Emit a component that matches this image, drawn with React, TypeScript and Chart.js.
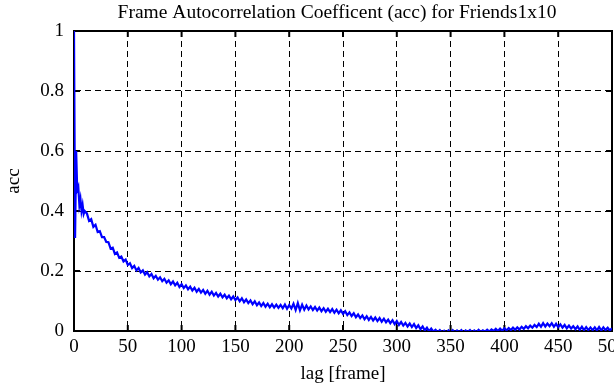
import React, { useEffect, useRef } from 'react';
import { Chart, registerables } from 'chart.js';

Chart.register(...registerables);

const chartTitle = 'Frame Autocorrelation Coefficent (acc) for Friends1x10';
const xAxisTitle = 'lag [frame]';
const yAxisTitle = 'acc';
const xTickValues = [0, 50, 100, 150, 200, 250, 300, 350, 400, 450, 500];
const yTickValues = [0, 0.2, 0.4, 0.6, 0.8, 1];
const yTickLabels = ['0', '0.2', '0.4', '0.6', '0.8', '1'];

const lagFrames = [
  0, 1, 2, 3, 4, 5, 6, 7, 8, 9, 10,
  12, 14, 16, 18, 20, 22, 24, 26, 28, 30,
  32, 34, 36, 38, 40, 42, 44, 46, 48, 50,
  52, 54, 56, 58, 60, 62, 64, 66, 68, 70,
  72, 74, 76, 78, 80, 82, 84, 86, 88, 90,
  92, 94, 96, 98, 100, 102, 104, 106, 108, 110,
  112, 114, 116, 118, 120, 122, 124, 126, 128, 130,
  132, 134, 136, 138, 140, 142, 144, 146, 148, 150,
  152, 154, 156, 158, 160, 162, 164, 166, 168, 170,
  172, 174, 176, 178, 180, 182, 184, 186, 188, 190,
  192, 194, 196, 198, 200, 202, 204, 206, 208, 210,
  212, 214, 216, 218, 220, 222, 224, 226, 228, 230,
  232, 234, 236, 238, 240, 242, 244, 246, 248, 250,
  252, 254, 256, 258, 260, 262, 264, 266, 268, 270,
  272, 274, 276, 278, 280, 282, 284, 286, 288, 290,
  292, 294, 296, 298, 300, 302, 304, 306, 308, 310,
  312, 314, 316, 318, 320, 322, 324, 326, 328, 330,
  332, 334, 336, 338, 340, 342, 344, 346, 348, 350,
  352, 354, 356, 358, 360, 362, 364, 366, 368, 370,
  372, 374, 376, 378, 380, 382, 384, 386, 388, 390,
  392, 394, 396, 398, 400, 402, 404, 406, 408, 410,
  412, 414, 416, 418, 420, 422, 424, 426, 428, 430,
  432, 434, 436, 438, 440, 442, 444, 446, 448, 450,
  452, 454, 456, 458, 460, 462, 464, 466, 468, 470,
  472, 474, 476, 478, 480, 482, 484, 486, 488, 490,
  492, 494, 496, 498, 500,
];

const accValues = [
  1.0, 0.31, 0.6, 0.47, 0.48, 0.42, 0.44, 0.4, 0.42, 0.39, 0.4,
  0.392, 0.367, 0.373, 0.347, 0.354, 0.33, 0.333, 0.313, 0.313, 0.297,
  0.296, 0.275, 0.278, 0.257, 0.262, 0.244, 0.248, 0.232, 0.238, 0.22,
  0.226, 0.21, 0.217, 0.202, 0.21, 0.195, 0.202, 0.188, 0.196, 0.182,
  0.19, 0.176, 0.184, 0.171, 0.179, 0.166, 0.174, 0.161, 0.169, 0.156,
  0.165, 0.152, 0.161, 0.147, 0.156, 0.143, 0.152, 0.139, 0.148, 0.135,
  0.144, 0.131, 0.14, 0.128, 0.137, 0.124, 0.134, 0.121, 0.131, 0.118,
  0.127, 0.115, 0.124, 0.112, 0.121, 0.109, 0.118, 0.106, 0.115, 0.103,
  0.112, 0.099, 0.109, 0.096, 0.105, 0.093, 0.102, 0.089, 0.099, 0.086,
  0.095, 0.083, 0.093, 0.081, 0.091, 0.079, 0.089, 0.078, 0.088, 0.077,
  0.087, 0.076, 0.088, 0.074, 0.086, 0.075, 0.091, 0.07, 0.093, 0.069,
  0.088, 0.071, 0.085, 0.072, 0.082, 0.07, 0.08, 0.068, 0.078, 0.066,
  0.076, 0.064, 0.074, 0.063, 0.073, 0.061, 0.071, 0.059, 0.069, 0.057,
  0.066, 0.053, 0.062, 0.05, 0.059, 0.046, 0.055, 0.043, 0.052, 0.039,
  0.049, 0.037, 0.047, 0.035, 0.045, 0.033, 0.043, 0.031, 0.041, 0.029,
  0.038, 0.026, 0.036, 0.023, 0.033, 0.02, 0.03, 0.018, 0.027, 0.015,
  0.025, 0.013, 0.023, 0.01, 0.019, 0.006, 0.015, 0.002, 0.011, -0.001,
  0.008, -0.002, 0.004, -0.004, 0.003, -0.005, 0.001, -0.006, 0.002, -0.006,
  0.003, -0.005, 0.002, -0.004, 0.003, -0.006, 0.002, -0.003, 0.003, -0.005,
  0.002, -0.004, 0.004, -0.003, 0.002, -0.002, 0.004, -0.002, 0.005, 0.0,
  0.007, 0.0, 0.008, 0.001, 0.009, 0.002, 0.01, 0.003, 0.011, 0.004,
  0.012, 0.005, 0.014, 0.007, 0.016, 0.009, 0.018, 0.011, 0.02, 0.013,
  0.024, 0.014, 0.026, 0.015, 0.025, 0.016, 0.026, 0.014, 0.024, 0.013,
  0.022, 0.011, 0.02, 0.009, 0.018, 0.008, 0.016, 0.006, 0.015, 0.004,
  0.014, 0.003, 0.013, 0.003, 0.012, 0.003, 0.012, 0.002, 0.013, 0.002,
  0.012, 0.003, 0.011, 0.002, 0.009,
];

const FONT = "'Liberation Serif', 'Times New Roman', serif";

const framePlugin = {
  id: 'gnuplotFrame',
  beforeDatasetsDraw(chart: any) {
    const { ctx, chartArea, scales } = chart;
    const { left, right, top, bottom } = chartArea;
    ctx.save();
    ctx.strokeStyle = '#000';
    ctx.lineWidth = 2;
    ctx.setLineDash([]);
    ctx.strokeRect(left, top, right - left, bottom - top);
    const tl = 6;
    ctx.beginPath();
    xTickValues.forEach((v) => {
      const x = scales.x.getPixelForValue(v);
      ctx.moveTo(x, bottom);
      ctx.lineTo(x, bottom - tl);
      ctx.moveTo(x, top);
      ctx.lineTo(x, top + tl);
    });
    yTickValues.forEach((v) => {
      const y = scales.y.getPixelForValue(v);
      ctx.moveTo(left, y);
      ctx.lineTo(left + tl, y);
      ctx.moveTo(right, y);
      ctx.lineTo(right - tl, y);
    });
    ctx.stroke();
    ctx.restore();
  },
  afterDraw(chart: any) {
    const { ctx, chartArea } = chart;
    ctx.save();
    ctx.fillStyle = '#000';
    ctx.font = `19.5px ${FONT}`;
    ctx.textAlign = 'center';
    ctx.textBaseline = 'alphabetic';
    ctx.fillText(chartTitle, (chartArea.left + chartArea.right) / 2 - 6, 18);
    ctx.restore();
  },
};

export default function App() {
  const canvasRef = useRef<HTMLCanvasElement | null>(null);

  useEffect(() => {
    if (!canvasRef.current) return;
    const points = lagFrames.map((lag, i) => ({ x: lag, y: accValues[i] }));
    const chart = new Chart(canvasRef.current, {
      type: 'line',
      data: {
        datasets: [
          {
            data: points,
            borderColor: '#0000ff',
            borderWidth: 2.2,
            pointRadius: 0,
            tension: 0,
            fill: false,
          },
        ],
      },
      plugins: [framePlugin],
      options: {
        animation: false,
        responsive: false,
        maintainAspectRatio: false,
        layout: { padding: { top: 31, right: 28, left: 0, bottom: 0 } },
        plugins: {
          legend: { display: false },
          title: { display: false },
          tooltip: { enabled: false },
        },
        scales: {
          x: {
            type: 'linear',
            min: 0,
            max: 500,
            afterFit: (s: any) => {
              s.height = 54;
            },
            afterBuildTicks: (s: any) => {
              s.ticks = xTickValues.map((v) => ({ value: v }));
            },
            ticks: {
              color: '#000',
              padding: 5,
              maxRotation: 0,
              autoSkip: false,
              font: { family: FONT, size: 19 },
              callback: (v: any) => String(v),
            },
            grid: { color: '#000', lineWidth: 1, drawTicks: false },
            border: { display: true, color: '#000', width: 2, dash: [6, 4] },
            title: {
              display: true,
              text: xAxisTitle,
              color: '#000',
              font: { family: FONT, size: 19 },
              padding: { top: 0, bottom: 0 },
            },
          },
          y: {
            type: 'linear',
            min: 0,
            max: 1,
            afterFit: (s: any) => {
              s.width = 74;
            },
            afterBuildTicks: (s: any) => {
              s.ticks = yTickValues.map((v) => ({ value: v }));
            },
            ticks: {
              color: '#000',
              padding: 10,
              autoSkip: false,
              font: { family: FONT, size: 19 },
              callback: (v: any) => {
                const idx = yTickValues.findIndex((t) => Math.abs(t - v) < 1e-9);
                return idx >= 0 ? yTickLabels[idx] : '';
              },
            },
            grid: { color: '#000', lineWidth: 1, drawTicks: false },
            border: { display: true, color: '#000', width: 2, dash: [6, 4] },
            title: {
              display: true,
              text: yAxisTitle,
              color: '#000',
              font: { family: FONT, size: 19 },
              padding: { top: 3, bottom: 0 },
            },
          },
        },
      },
    });
    return () => chart.destroy();
  }, []);

  return (
    <div
      style={{
        position: 'fixed',
        left: 0,
        top: 0,
        width: 614,
        height: 385,
        overflow: 'hidden',
        background: '#fff',
      }}
    >
      <canvas ref={canvasRef} width={640} height={385} style={{ display: 'block' }} />
    </div>
  );
}
